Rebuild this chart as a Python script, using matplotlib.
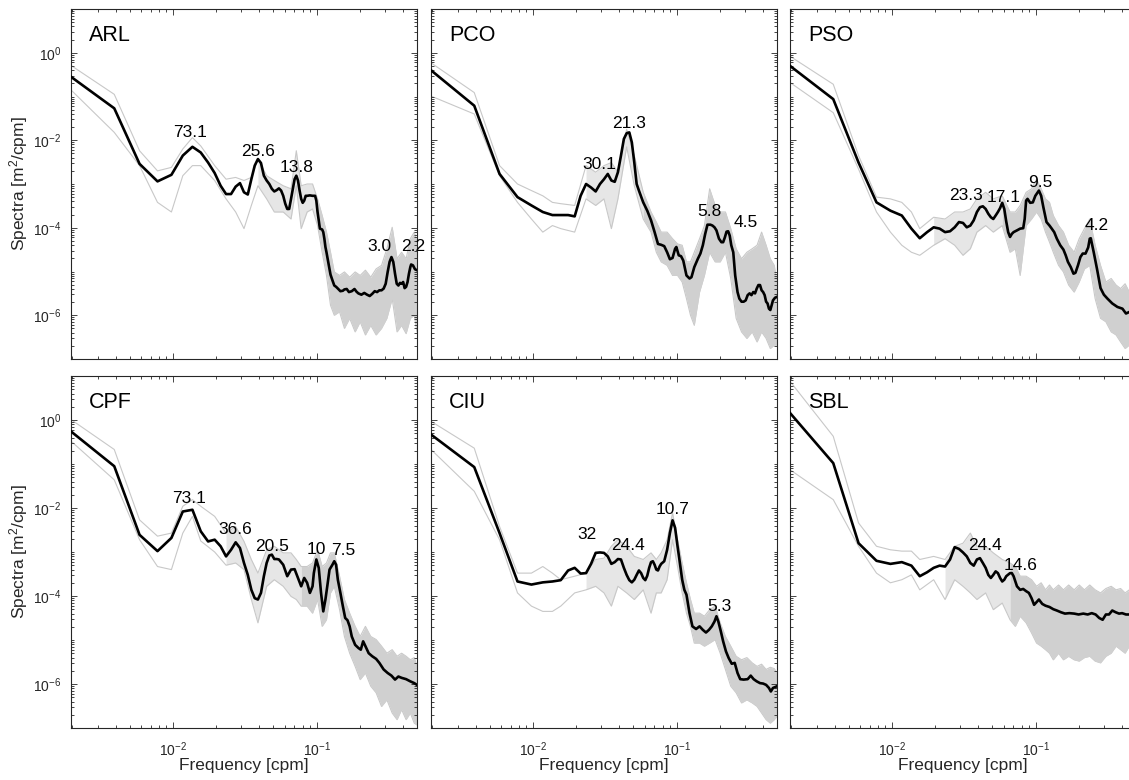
# -*- coding: utf-8 -*-
# Espectros de nivel del mar (log-log) para seis estaciones

import numpy as np
import matplotlib
matplotlib.use('Agg')
import matplotlib.pyplot as plt
from matplotlib.ticker import LogLocator, FixedLocator, NullFormatter

plt.rcParams['font.family'] = ['Liberation Sans', 'DejaVu Sans']
plt.rcParams['axes.unicode_minus'] = False

NFFT = 512  # frecuencia = k / NFFT cpm

# Bins de frecuencia donde se leen las envolventes de los espectros individuales
k_env = [1, 2, 3, 4, 5, 6, 7, 8, 10, 12, 14, 16, 18, 20, 23, 26, 30, 34, 37, 40, 44, 48,
         52, 56, 60, 64, 68, 74, 80, 87, 95, 103, 112, 122, 133, 145, 158, 172, 186, 200,
         215, 230, 245, 256]

# ---------------- ARL ----------------
k_arl = [1, 2, 3, 4, 5, 6, 7, 8, 9, 10, 11, 12, 13, 14, 15, 16, 17, 18, 19, 20, 21, 22, 23,
         24, 25, 26, 27, 28, 29, 30, 31, 32, 33, 34, 35, 36, 37, 38, 39, 40, 41, 42, 43, 44,
         46, 48, 50, 51, 52, 53, 54, 56, 57, 58, 59, 60, 62, 64, 66, 68, 70, 72, 75, 78, 80,
         83, 86, 90, 94, 97, 100, 105, 110, 115, 120, 125, 130, 135, 140, 145, 150, 155, 160,
         165, 170, 175, 180, 185, 190, 195, 200, 205, 210, 215, 220, 225, 230, 233, 240, 248, 256]
media_arl = [-0.55, -1.27, -2.54, -2.94, -2.79, -2.35, -2.15, -2.28, -2.51, -2.75, -3.04, -3.23,
             -3.23, -3.06, -2.98, -3.19, -3.24, -2.89, -2.58, -2.43, -2.52, -2.81, -2.92, -3.00,
             -3.11, -3.17, -3.14, -3.10, -3.15, -3.27, -3.45, -3.57, -3.57, -3.34, -3.11, -2.89,
             -2.81, -2.92, -3.15, -3.34, -3.43, -3.38, -3.27, -3.27, -3.26, -3.27, -3.27, -3.38,
             -3.64, -3.83, -4.02, -4.04, -4.10, -4.25, -4.44, -4.56, -4.82, -5.07, -5.20, -5.32,
             -5.35, -5.39, -5.45, -5.44, -5.41, -5.40, -5.47, -5.45, -5.40, -5.46, -5.50, -5.53,
             -5.49, -5.53, -5.56, -5.51, -5.45, -5.47, -5.43, -5.43, -5.39, -5.28, -5.01, -4.78,
             -4.67, -4.78, -5.05, -5.28, -5.32, -5.26, -5.28, -5.24, -5.38, -5.35, -5.24, -5.05,
             -4.90, -4.84, -4.86, -4.95, -4.97]
sup_arl = [-0.29, -0.95, -2.24, -2.70, -2.62, -2.20, -1.94, -2.13, -2.58, -2.89, -2.85, -2.92,
           -2.85, -2.43, -2.81, -2.92, -3.04, -3.11, -2.24, -3.04, -3.00, -3.00, -3.34, -3.72,
           -4.10, -4.56, -5.01, -5.09, -5.01, -5.13, -5.01, -5.09, -4.97, -5.13, -4.94, -4.86,
           -4.48, -3.99, -4.71, -4.56, -4.71, -4.25, -4.10, -4.33]
inf_arl = [-0.85, -1.82, -2.58, -3.42, -3.64, -2.81, -2.58, -2.58, -2.92, -3.34, -3.64, -4.02,
           -3.49, -3.04, -3.34, -3.64, -3.64, -3.80, -3.04, -4.02, -3.64, -3.57, -3.95, -4.56,
           -5.09, -5.77, -6.00, -5.92, -6.30, -6.07, -6.38, -6.15, -6.45, -6.23, -6.45, -6.30,
           -6.07, -5.62, -6.38, -6.23, -6.42, -6.07, -6.00, -6.38]
picos_arl = ['73.1', '25.6', '13.8', '3.0', '2.2']

# ---------------- PCO ----------------
k_pco = [1, 2, 3, 4, 5, 6, 7, 8, 9, 10, 11, 12, 13, 14, 15, 16, 17, 18, 19, 20, 21, 22, 23,
         24, 25, 26, 27, 28, 30, 32, 34, 36, 38, 40, 42, 44, 46, 48, 50, 51, 53, 55, 57, 60,
         63, 65, 68, 72, 75, 78, 81, 84, 86, 88, 91, 94, 97, 101, 105, 108, 111, 114, 117,
         120, 123, 127, 131, 136, 140, 145, 150, 155, 160, 165, 170, 175, 180, 185, 190, 195,
         200, 205, 210, 215, 220, 225, 230, 235, 240, 248, 256]
media_pco = [-0.40, -1.21, -2.77, -3.30, -3.49, -3.64, -3.71, -3.71, -3.71, -3.74, -3.27, -3.00,
             -3.08, -3.17, -3.00, -2.89, -2.77, -2.92, -2.95, -2.73, -2.35, -1.97, -1.84, -1.82,
             -2.05, -2.51, -3.00, -3.15, -3.42, -3.61, -3.83, -4.10, -4.37, -4.39, -4.42, -4.56,
             -4.72, -4.69, -4.48, -4.44, -4.63, -4.65, -4.75, -5.09, -5.16, -5.13, -4.90, -4.71,
             -4.59, -4.40, -4.14, -3.93, -3.93, -3.93, -3.95, -3.99, -4.06, -4.25, -4.33, -4.33,
             -4.22, -4.09, -4.08, -4.18, -4.40, -4.56, -5.09, -5.47, -5.62, -5.69, -5.69, -5.66,
             -5.54, -5.50, -5.54, -5.47, -5.50, -5.39, -5.31, -5.31, -5.43, -5.47, -5.54, -5.69,
             -5.73, -5.85, -5.88, -5.77, -5.66, -5.60, -5.58]
sup_pco = [-0.23, -0.91, -2.58, -3.00, -3.15, -3.27, -3.42, -3.45, -3.49, -2.58, -2.73, -2.58,
           -2.51, -2.73, -1.75, -2.35, -3.19, -3.64, -3.87, -4.10, -4.10, -4.25, -4.37, -4.40,
           -4.78, -4.78, -4.56, -4.25, -3.95, -3.11, -3.49, -3.64, -3.64, -4.02, -4.48, -4.71,
           -4.56, -4.48, -4.40, -4.10, -4.40, -4.71, -4.86, -5.24]
inf_pco = [-0.99, -1.40, -2.81, -3.42, -3.80, -4.10, -3.95, -4.02, -4.10, -3.34, -3.49, -3.34,
           -4.02, -3.34, -2.15, -3.04, -3.80, -4.10, -4.56, -4.78, -4.86, -5.09, -5.09, -5.24,
           -5.62, -6.00, -6.23, -5.47, -5.09, -4.56, -4.78, -4.78, -4.56, -5.16, -6.07, -6.38,
           -6.53, -6.38, -6.61, -6.38, -6.53, -6.76, -6.68, -6.68]
picos_pco = ['30.1', '21.3', '5.8', '4.5']

# ---------------- PSO ----------------
k_pso = [1, 2, 3, 4, 5, 6, 7, 8, 9, 10, 11, 12, 13, 14, 15, 16, 17, 18, 19, 20, 21, 22, 23,
         24, 25, 26, 27, 28, 29, 30, 31, 32, 33, 34, 35, 36, 38, 40, 42, 43, 44, 45, 47, 49,
         51, 54, 56, 58, 61, 64, 66, 69, 72, 76, 80, 83, 86, 90, 94, 97, 101, 105, 109, 114,
         119, 122, 124, 130, 137, 145, 153, 162, 175, 190, 206, 218, 232, 245, 256]
media_pso = [-0.30, -1.06, -2.51, -3.42, -3.61, -3.72, -4.02, -4.24, -4.10, -3.99, -4.02, -4.10,
             -4.08, -3.99, -3.87, -3.89, -3.99, -3.95, -3.83, -3.64, -3.53, -3.51, -3.57, -3.68,
             -3.76, -3.80, -3.72, -3.64, -3.55, -3.43, -3.57, -3.86, -4.10, -4.21, -4.14, -4.10,
             -4.06, -4.02, -4.01, -3.80, -3.38, -3.34, -3.43, -3.42, -3.27, -3.15, -3.27, -3.53,
             -3.87, -3.95, -4.01, -4.10, -4.25, -4.40, -4.50, -4.63, -4.78, -4.90, -5.05, -5.03,
             -4.86, -4.67, -4.59, -4.59, -4.45, -4.25, -4.24, -4.56, -4.94, -5.38, -5.53, -5.62,
             -5.73, -5.81, -5.85, -5.96, -5.92, -5.95, -6.00]
sup_pso = [-0.08, -0.72, -2.35, -3.30, -3.34, -3.42, -3.64, -4.02, -3.76, -3.80, -3.64, -3.64,
           -3.57, -3.34, -3.19, -3.34, -3.27, -3.64, -3.64, -3.49, -3.19, -3.11, -2.89, -3.11,
           -3.34, -3.42, -3.72, -3.95, -4.10, -4.40, -4.56, -4.25, -4.02, -3.80, -4.40, -4.86,
           -5.24, -5.16, -5.31, -5.39, -5.28, -5.47, -5.40, -5.52]
inf_pso = [-0.68, -1.37, -2.66, -3.64, -4.10, -4.40, -4.56, -4.63, -4.40, -4.25, -4.40, -4.63,
           -4.48, -4.10, -3.95, -4.10, -3.95, -4.56, -4.48, -5.09, -3.95, -3.80, -3.64, -3.80,
           -4.10, -4.33, -4.56, -4.86, -5.01, -5.31, -5.47, -5.24, -4.94, -4.86, -5.62, -6.07,
           -6.15, -6.38, -6.45, -6.61, -6.76, -6.68, -6.76, -6.68]
picos_pso = ['23.3', '17.1', '9.5', '4.2']

# ---------------- CPF ----------------
k_cpf = [1, 2, 3, 4, 5, 6, 7, 8, 9, 10, 11, 12, 13, 14, 15, 16, 17, 18, 19, 20, 21, 22, 23,
         24, 25, 26, 27, 28, 30, 32, 34, 36, 38, 40, 42, 44, 46, 48, 49, 51, 53, 55, 57, 59,
         61, 63, 66, 68, 70, 72, 75, 78, 81, 84, 87, 90, 95, 100, 104, 108, 112, 118, 125, 133,
         140, 150, 160, 170, 180, 190, 200, 215, 230, 245, 256]
media_cpf = [-0.26, -1.05, -2.61, -2.98, -2.68, -2.08, -2.04, -2.53, -2.76, -2.72, -2.87, -3.10,
             -2.95, -2.78, -2.91, -3.25, -3.52, -3.86, -4.05, -4.08, -3.93, -3.55, -3.25, -3.08,
             -3.06, -3.16, -3.16, -3.17, -3.29, -3.55, -3.40, -3.39, -3.59, -3.78, -3.59, -3.70,
             -3.93, -3.78, -3.48, -3.17, -3.36, -3.93, -4.35, -4.08, -3.74, -3.40, -3.29, -3.21,
             -3.29, -3.63, -3.93, -4.23, -4.50, -4.55, -4.69, -4.92, -5.11, -5.18, -5.22, -5.03,
             -5.14, -5.30, -5.37, -5.43, -5.52, -5.67, -5.75, -5.81, -5.90, -5.83, -5.86, -5.89,
             -5.94, -5.98, -6.02]
sup_cpf = [0.01, -0.67, -2.27, -2.64, -2.57, -1.96, -1.81, -1.96, -2.19, -2.57, -2.42, -2.76,
           -3.17, -3.48, -2.95, -2.87, -3.02, -3.02, -3.17, -3.33, -3.33, -3.25, -2.95, -3.33,
           -3.25, -3.02, -3.02, -3.55, -4.08, -4.39, -4.69, -4.92, -4.69, -4.92, -4.99, -5.14,
           -5.30, -5.22, -5.37, -5.30, -5.37, -5.45, -5.40, -5.60]
inf_cpf = [-0.48, -1.36, -2.72, -3.33, -3.40, -2.57, -2.19, -2.75, -3.00, -3.30, -3.25, -3.40,
           -4.08, -4.61, -3.78, -3.63, -3.78, -4.01, -4.08, -4.23, -4.23, -4.39, -4.08, -4.69,
           -4.54, -3.93, -3.78, -4.31, -4.92, -5.30, -5.60, -5.90, -5.75, -6.05, -6.20, -6.51,
           -6.36, -6.66, -6.81, -6.58, -6.81, -6.66, -6.89, -6.93]
picos_cpf = ['73.1', '36.6', '20.5', '10', '7.5']

# ---------------- CIU ----------------
k_ciu = [1, 2, 3, 4, 5, 6, 7, 8, 9, 10, 11, 12, 13, 14, 15, 16, 17, 18, 19, 20, 21, 22, 23,
         24, 25, 26, 27, 28, 29, 30, 31, 32, 33, 34, 35, 36, 37, 38, 39, 40, 42, 44, 46, 48,
         50, 52, 54, 56, 58, 60, 63, 66, 70, 74, 78, 82, 86, 90, 94, 97, 100, 104, 108, 113,
         118, 124, 130, 136, 142, 150, 160, 168, 176, 185, 195, 205, 215, 225, 232, 240, 256]
media_ciu = [-0.33, -1.07, -2.57, -3.67, -3.74, -3.69, -3.67, -3.64, -3.42, -3.36, -3.49, -3.48,
             -3.27, -3.02, -3.01, -3.02, -3.10, -3.27, -3.23, -3.16, -3.17, -3.36, -3.52, -3.64,
             -3.69, -3.63, -3.52, -3.42, -3.48, -3.59, -3.64, -3.54, -3.36, -3.23, -3.21, -3.29,
             -3.40, -3.42, -3.33, -3.27, -3.21, -2.95, -2.57, -2.28, -2.45, -2.87, -3.25, -3.63,
             -3.86, -3.97, -4.39, -4.69, -4.75, -4.69, -4.77, -4.83, -4.77, -4.69, -4.58, -4.46,
             -4.58, -4.80, -5.03, -5.26, -5.41, -5.54, -5.52, -5.75, -5.89, -5.90, -5.89, -5.81,
             -5.89, -5.94, -5.98, -5.99, -6.02, -6.09, -6.17, -6.09, -6.05]
sup_ciu = [-0.03, -0.64, -2.42, -3.48, -3.48, -3.33, -3.48, -3.63, -3.55, -3.48, -3.17, -3.14,
           -2.87, -2.72, -2.87, -3.10, -3.17, -3.02, -3.17, -3.02, -2.72, -2.11, -2.72, -3.25,
           -3.70, -4.08, -4.39, -4.39, -4.46, -4.31, -4.23, -4.61, -4.92, -5.14, -5.37, -5.45,
           -5.40, -5.52, -5.60, -5.55, -5.67, -5.62, -5.65, -5.75]
inf_ciu = [-0.67, -1.62, -2.72, -3.93, -4.23, -4.35, -4.35, -4.23, -3.93, -3.86, -3.78, -3.93,
           -4.23, -3.78, -3.93, -4.08, -3.86, -4.39, -3.93, -3.93, -3.63, -2.72, -3.33, -3.93,
           -4.39, -4.69, -5.07, -5.07, -5.14, -5.07, -4.99, -5.30, -5.67, -6.05, -6.20, -6.43,
           -6.36, -6.43, -6.51, -6.66, -6.81, -6.89, -6.81, -6.73]
picos_ciu = ['32', '24.4', '10.7', '5.3']

# ---------------- SBL ----------------
k_sbl = [1, 2, 3, 4, 5, 6, 7, 8, 9, 10, 11, 12, 13, 14, 15, 16, 17, 18, 19, 20, 21, 22, 23,
         24, 25, 26, 27, 28, 29, 30, 31, 32, 34, 35, 36, 38, 40, 42, 44, 46, 48, 50, 52, 54,
         57, 60, 64, 68, 72, 77, 82, 88, 95, 102, 110, 118, 126, 134, 142, 150, 158, 166, 175,
         185, 195, 205, 218, 232, 256]
media_sbl = [0.16, -0.98, -2.80, -3.20, -3.27, -3.23, -3.31, -3.55, -3.46, -3.36, -3.31, -3.33,
             -3.17, -2.89, -2.93, -3.01, -3.10, -3.25, -3.31, -3.17, -3.14, -3.25, -3.36, -3.52,
             -3.59, -3.52, -3.44, -3.48, -3.59, -3.67, -3.63, -3.55, -3.48, -3.48, -3.55, -3.78,
             -3.86, -3.84, -3.89, -3.93, -4.05, -4.20, -4.14, -4.08, -4.18, -4.22, -4.25, -4.30,
             -4.33, -4.37, -4.40, -4.39, -4.40, -4.42, -4.40, -4.42, -4.39, -4.42, -4.50, -4.54,
             -4.42, -4.42, -4.33, -4.37, -4.40, -4.39, -4.42, -4.42, -4.42]
sup_sbl = [0.88, -0.37, -2.34, -2.87, -2.95, -2.98, -2.98, -3.17, -3.10, -3.17, -2.87, -2.80,
           -2.57, -2.87, -2.87, -3.02, -3.17, -3.25, -3.33, -3.55, -3.55, -3.63, -3.78, -3.70,
           -3.86, -3.75, -3.86, -3.75, -3.86, -3.75, -3.86, -3.75, -3.86, -3.75, -3.86, -3.93,
           -3.83, -3.78, -3.86, -3.83, -3.93, -3.86, -3.93, -3.93]
inf_sbl = [-1.13, -1.81, -2.87, -3.48, -3.70, -3.63, -3.52, -3.86, -3.63, -4.08, -3.63, -3.78,
           -3.93, -4.08, -3.93, -4.31, -4.16, -4.54, -4.69, -4.46, -4.61, -4.84, -5.07, -5.14,
           -5.22, -5.30, -5.45, -5.30, -5.45, -5.37, -5.45, -5.48, -5.40, -5.37, -5.48, -5.52,
           -5.37, -5.30, -5.14, -5.22, -5.30, -5.14, -5.14, -5.14]
picos_sbl = ['24.4', '14.6']

estaciones = ['ARL', 'PCO', 'PSO', 'CPF', 'CIU', 'SBL']
bins = [k_arl, k_pco, k_pso, k_cpf, k_ciu, k_sbl]
medias = [media_arl, media_pco, media_pso, media_cpf, media_ciu, media_sbl]
superiores = [sup_arl, sup_pco, sup_pso, sup_cpf, sup_ciu, sup_sbl]
inferiores = [inf_arl, inf_pco, inf_pso, inf_cpf, inf_ciu, inf_sbl]
picos = [picos_arl, picos_pco, picos_pso, picos_cpf, picos_ciu, picos_sbl]

# Desplazamiento de cada etiqueta de pico (pixeles) para que no se encimen
desfases = [
    [(-2, 10), (0, 3), (0, 4), (-12, 7), (2, 14)],
    [(-9, 5), (0, 5), (-1, 9), (19, 5)],
    [(-17, 6), (2, 1), (2, 4), (7, 9)],
    [(-3, 7), (0, 8), (0, 4), (0, 6), (9, 7)],
    [(-17, 14), (7, 9), (0, 7), (3, 6)],
    [(5, 8), (9, 3)],
]
# Banda gris: tono claro donde se cruzan pocas series, oscuro donde son muchas
relleno_claro = [20, 12, 10, 12, 12, 12]
relleno_denso = [52, 30, 30, 40, 52, 34]

# Posicion de los paneles en pixeles (figura 1129 x 780)
W, H = 1129, 780
izq = [71, 431, 790]
ancho = 346
arriba = [9, 376]
alto = [350, 352]

color_eje = '#262626'
gris = '#c8c8c8'

fig = plt.figure(figsize=(W / 100, H / 100), dpi=100)

for i, nombre in enumerate(estaciones):
    fila, col = divmod(i, 3)
    ax = fig.add_axes([izq[col] / W, 1 - (arriba[fila] + alto[fila]) / H,
                       ancho / W, alto[fila] / H])

    f = np.array(bins[i]) / NFFT
    s = 10 ** np.array(medias[i])
    ke = np.array(k_env)
    fe = ke / NFFT
    hi = 10 ** np.array(superiores[i])
    lo = 10 ** np.array(inferiores[i])

    # Espectros individuales (envolvente gris)
    ax.plot(fe, hi, color=gris, lw=0.8, zorder=1)
    ax.plot(fe, lo, color=gris, lw=0.8, zorder=1)
    m1 = (ke >= relleno_claro[i]) & (ke <= relleno_denso[i])
    ax.fill_between(fe[m1], lo[m1], hi[m1], color='#e6e6e6', lw=0, zorder=0.5)
    m2 = ke >= relleno_denso[i]
    ax.fill_between(fe[m2], lo[m2], hi[m2], color='#d0d0d0', lw=0, zorder=1)

    # Espectro promedio
    ax.plot(f, s, color='black', lw=1.9, zorder=3)

    # Periodos de los picos (minutos)
    for texto, (dx, dy) in zip(picos[i], desfases[i]):
        fp = 1.0 / float(texto)
        yp = 10 ** np.interp(np.log10(fp), np.log10(f), medias[i])
        ax.annotate(texto, xy=(fp, yp), xytext=(dx, dy), textcoords='offset pixels',
                    ha='center', va='baseline', fontsize=12.5, color='black', zorder=4)

    ax.text(0.053, 0.909, nombre, transform=ax.transAxes, fontsize=15.5,
            ha='left', va='baseline', color='black')

    ax.set_xscale('log')
    ax.set_yscale('log')
    ax.set_xlim(1.0 / NFFT, 0.5)
    ax.set_ylim(1e-7, 1e1)
    ax.yaxis.set_major_locator(FixedLocator([1e-6, 1e-4, 1e-2, 1e0]))
    ax.yaxis.set_minor_locator(LogLocator(base=10, subs=np.arange(1, 10), numticks=30))
    ax.yaxis.set_minor_formatter(NullFormatter())
    ax.xaxis.set_minor_locator(LogLocator(base=10, subs=np.arange(2, 10), numticks=30))
    ax.xaxis.set_minor_formatter(NullFormatter())

    ax.tick_params(which='both', direction='in', top=True, right=True,
                   color=color_eje, width=0.6, labelcolor=color_eje, labelsize=10)
    ax.tick_params(which='major', length=4)
    ax.tick_params(which='minor', length=2)
    ax.tick_params(axis='y', pad=7)
    ax.tick_params(axis='x', pad=9)
    for sp in ax.spines.values():
        sp.set_color(color_eje)
        sp.set_linewidth(0.8)

    if col == 0:
        ax.set_ylabel(r'Spectra [m$\mathdefault{^2}$/cpm]', fontsize=12.5, color=color_eje)
        ax.yaxis.set_label_coords(-0.118, 0.5)
    else:
        ax.tick_params(labelleft=False)
    if fila == 1:
        ax.set_xlabel('Frequency [cpm]', fontsize=12.5, color=color_eje)
        ax.xaxis.set_label_coords(0.5, -0.085)
    else:
        ax.tick_params(labelbottom=False)

fig.savefig('out.png', dpi=100, facecolor='white')
